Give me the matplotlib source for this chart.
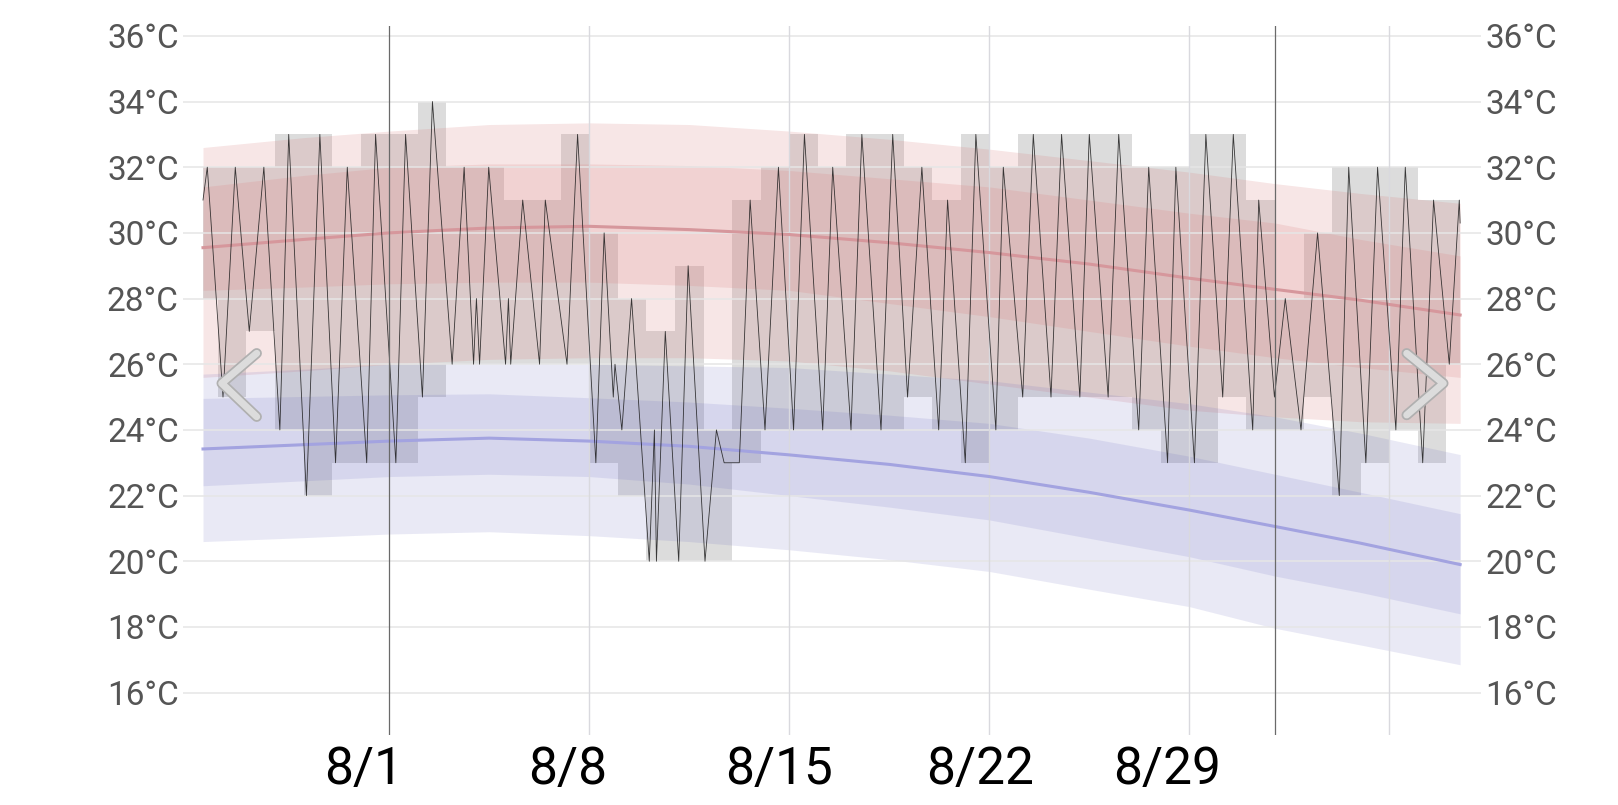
import numpy as np
import matplotlib
matplotlib.use("Agg")
import matplotlib.pyplot as plt
import matplotlib.patheffects as pe
from matplotlib.lines import Line2D
from matplotlib.transforms import blended_transform_factory

# days since Aug 1 00:00
band_t = [-6.52, -3, 0, 3.5, 7, 10.5, 14, 17.5, 21, 24.5, 28, 31, 34, 37.48]

# daily high: 10/25/avg/75/90 percentile
hi_p90 = [32.6, 32.9, 33.1, 33.3, 33.35, 33.3, 33.1, 32.85, 32.55, 32.2, 31.85, 31.5, 31.2, 30.9]
hi_p75 = [31.4, 31.75, 32.0, 32.1, 32.1, 32.05, 31.9, 31.65, 31.4, 31.0, 30.6, 30.3, 29.8, 29.3]
hi_avg = [29.55, 29.8, 30.0, 30.15, 30.2, 30.1, 29.95, 29.7, 29.4, 29.05, 28.62, 28.28, 27.95, 27.5]
hi_p25 = [28.25, 28.35, 28.45, 28.5, 28.5, 28.4, 28.25, 27.85, 27.45, 27.0, 26.55, 26.2, 25.9, 25.6]
hi_p10 = [25.6, 25.8, 26.0, 26.15, 26.2, 26.2, 26.1, 25.8, 25.4, 25.0, 24.6, 24.4, 24.25, 24.2]

# daily low
lo_p90 = [25.7, 25.85, 26.0, 26.05, 26.0, 25.95, 25.9, 25.7, 25.5, 25.15, 24.8, 24.4, 23.9, 23.25]
lo_p75 = [24.96, 25.02, 25.07, 25.1, 24.98, 24.85, 24.66, 24.45, 24.2, 23.75, 23.2, 22.65, 22.1, 21.45]
lo_avg = [23.42, 23.55, 23.66, 23.75, 23.66, 23.5, 23.24, 22.95, 22.58, 22.1, 21.56, 21.06, 20.55, 19.9]
lo_p25 = [22.3, 22.45, 22.58, 22.65, 22.58, 22.35, 22.0, 21.65, 21.26, 20.7, 20.14, 19.55, 19.05, 18.4]
lo_p10 = [20.6, 20.72, 20.83, 20.9, 20.78, 20.6, 20.35, 20.05, 19.69, 19.15, 18.62, 17.96, 17.45, 16.85]

# observed temperature, turning points (day, degC)
obs = [
    (-6.52, 31), (-6.37, 32), (-5.82, 25), (-5.39, 32), (-5.0, 28), (-4.9, 27),
    (-4.39, 32), (-3.83, 24), (-3.52, 33), (-2.9, 22), (-2.43, 33), (-1.88, 23),
    (-1.47, 32), (-0.79, 23), (-0.48, 33), (0.23, 23), (0.57, 33), (1.16, 25),
    (1.51, 34), (2.2, 26), (2.62, 32), (2.95, 26), (3.05, 28), (3.16, 26),
    (3.48, 32), (4.07, 26), (4.17, 28), (4.25, 26), (4.67, 31), (5.26, 26),
    (5.46, 31), (6.22, 26), (6.59, 33), (7.23, 23), (7.52, 30), (7.84, 25),
    (7.9, 26), (8.14, 24), (8.48, 28), (9.1, 20), (9.28, 24), (9.35, 20),
    (9.66, 27), (10.13, 20), (10.46, 29), (11.05, 20), (11.45, 24), (11.72, 23),
    (12.25, 23), (12.63, 31), (13.15, 24), (13.62, 32), (14.15, 24), (14.53, 33),
    (15.17, 24), (15.52, 32), (16.16, 24), (16.54, 33), (17.21, 24), (17.62, 33),
    (18.14, 25), (18.64, 32), (19.23, 24), (19.54, 31), (20.16, 23), (20.53, 33),
    (21.23, 24), (21.49, 32), (22.17, 25), (22.54, 33), (23.16, 25), (23.53, 33),
    (24.17, 25), (24.5, 33), (25.16, 25), (25.53, 33), (26.23, 24), (26.58, 32),
    (27.24, 23), (27.53, 32), (28.18, 23), (28.58, 33), (29.17, 25), (29.54, 33),
    (30.22, 24), (30.43, 31), (30.98, 25), (31.36, 28), (31.91, 24), (32.49, 30),
    (33.25, 22), (33.58, 32), (34.18, 23), (34.59, 32), (35.23, 24), (35.56, 32),
    (36.17, 23), (36.55, 31), (37.1, 26), (37.45, 31), (37.48, 30.3),
]
obs_t = np.array([p[0] for p in obs])
obs_temp = np.array([p[1] for p in obs])

y_ticks = list(range(16, 37, 2))
week_lines = [7, 14, 21, 28, 35]
month_lines = [0, 31]
x_labels = ["8/1", "8/8", "8/15", "8/22", "8/29"]
x_label_days = [0, 7, 14, 21, 28]
x_label_shift = [-0.9, -0.75, -0.36, -0.34, -0.78]

W, H = 1618, 805
fig = plt.figure(figsize=(W / 100, H / 100), dpi=100)
fig.patch.set_facecolor("white")
ax = fig.add_axes([183 / W, 70 / H, 1298 / W, 709 / H])
ax.set_xlim(-7.22, 38.21)
ax.set_ylim(14.71, 36.3)
for s in ax.spines.values():
    s.set_visible(False)

# gray daily observed range boxes (hourly readings are whole degrees)
hours = np.arange(obs_t[0], obs_t[-1] + 1e-9, 1 / 24)
hourly = np.round(np.interp(hours, obs_t, obs_temp))
day_idx = np.floor(hours).astype(int)
days = np.unique(day_idx)
day_max = np.array([hourly[day_idx == d].max() for d in days])
day_min = np.array([hourly[day_idx == d].min() for d in days])
edges = np.concatenate([[obs_t[0]], days[1:].astype(float), [obs_t[-1]]])
ax.stairs(day_max, edges, baseline=day_min, fill=True, color="#dcdcdc", lw=0, zorder=1)

# percentile bands
red = (0.86, 0.51, 0.51)
blue = (0.40, 0.40, 0.75)
ax.fill_between(band_t, hi_p10, hi_p90, color=red, alpha=0.2, lw=0, zorder=2)
ax.fill_between(band_t, hi_p25, hi_p75, color=red, alpha=0.2, lw=0, zorder=2)
ax.fill_between(band_t, lo_p10, lo_p90, color=blue, alpha=0.14, lw=0, zorder=2)
ax.fill_between(band_t, lo_p25, lo_p75, color=blue, alpha=0.14, lw=0, zorder=2)

# gridlines
for v in y_ticks:
    ax.axhline(v, color="#e6e6e6", lw=1.1, zorder=2.5)
for d in week_lines:
    ax.axvline(d, color="#d9d9de", lw=1.0, zorder=2.5)

ax.plot(band_t, hi_avg, color="#d6979c", lw=2.2, zorder=3)
ax.plot(band_t, lo_avg, color="#a3a3e0", lw=2.2, zorder=3)
ax.plot(obs_t, obs_temp, color="#1a1a1a", lw=0.6, alpha=0.85, zorder=4)

for d in month_lines:
    ax.axvline(d, color="#6a6a6a", lw=0.9, zorder=5)

ax.set_xticks([])
ax.set_yticks(y_ticks)
ax.set_yticklabels([f"{v}°C" for v in y_ticks])
ax.tick_params(axis="y", length=0, pad=3, labelsize=24, labelcolor="#555555",
               labelleft=True, labelright=True)
for lab in ax.get_yticklabels():
    lab.set_fontfamily(["Roboto", "DejaVu Sans"])

tr = blended_transform_factory(ax.transData, fig.transFigure)
for lab, d, sh in zip(x_labels, x_label_days, x_label_shift):
    ax.text(d + sh, 35 / H, lab, transform=tr, ha="center", va="center",
            fontsize=37, color="black", family=["Roboto", "DejaVu Sans"],
            clip_on=False)

# navigation chevrons
def chevron(pts):
    xs = [p[0] / W for p in pts]
    ys = [1 - p[1] / H for p in pts]
    ln = Line2D(xs, ys, transform=fig.transFigure, color="#e2e2e2", lw=5,
                solid_capstyle="round", solid_joinstyle="round", zorder=10, alpha=0.9,
                path_effects=[pe.Stroke(linewidth=7.5, foreground="#b0b0b0"), pe.Normal()])
    fig.add_artist(ln)

chevron([(256.7, 353.3), (221.7, 383.3), (256.7, 416.7)])
chevron([(1406.7, 353.3), (1443.3, 383.3), (1406.7, 415.0)])

fig.savefig("out.png", dpi=100, facecolor="white")
